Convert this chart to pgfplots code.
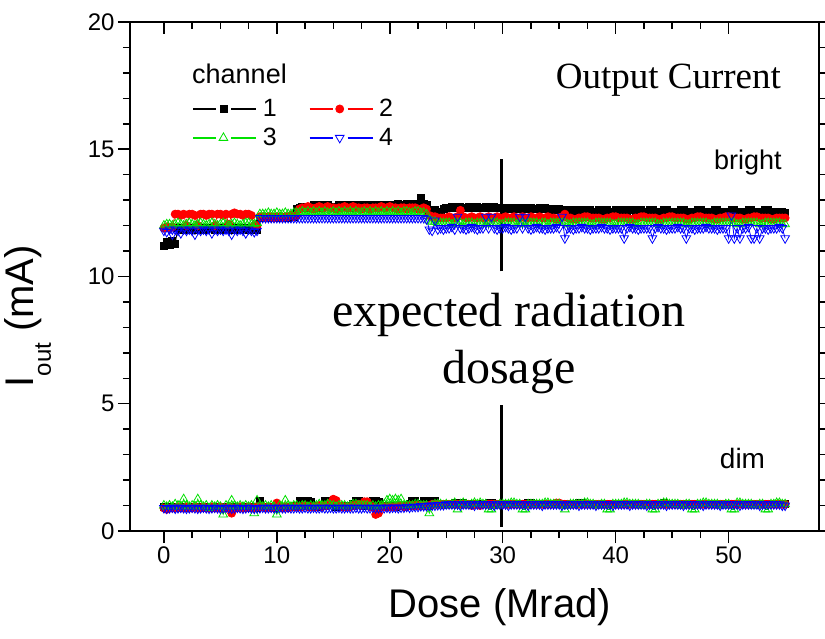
\documentclass[border=0pt]{standalone}
\usepackage{pgfplots}
\pgfplotsset{compat=1.18}
\usepackage{pgfplotstable}
\usepackage{fontspec}
\setmainfont{Liberation Sans}
\newfontfamily\timesfont{Liberation Serif}
\definecolor{cgreen}{RGB}{0,225,0}

\pgfplotstableread{
x b1 b2 b3 b4 d1 d2 d3 d4
0.00 11.20 11.90 12.00 11.80 0.95 0.90 1.00 0.90
0.25 11.35 11.95 12.05 11.75 0.95 0.85 0.95 0.88
0.50 11.25 11.90 12.05 11.85 0.90 0.90 1.00 0.90
0.75 11.40 11.95 12.00 11.65 0.95 0.90 0.95 0.92
1.00 11.30 12.45 12.05 11.85 0.95 0.90 1.05 0.88
1.25 11.90 12.45 12.10 11.80 0.90 0.95 1.00 0.90
1.50 11.85 12.40 12.05 11.70 0.95 0.90 0.95 0.92
1.75 11.90 12.45 12.00 11.85 0.95 0.90 1.25 0.90
2.00 11.90 12.00 12.05 11.80 0.95 0.95 1.00 0.88
2.25 11.85 12.45 12.10 11.85 0.90 0.90 0.95 0.90
2.50 11.90 12.45 12.05 11.80 0.95 0.90 1.00 0.92
2.75 11.90 12.40 12.00 11.65 0.95 0.95 0.95 0.90
3.00 11.85 12.00 12.05 11.85 0.95 0.90 1.25 0.88
3.25 11.90 12.45 12.10 11.80 0.90 0.90 1.00 0.90
3.50 11.90 12.45 12.05 11.85 0.95 0.95 0.95 0.92
3.75 11.85 12.40 12.00 11.80 0.95 0.90 1.00 0.90
4.00 11.90 12.45 12.05 11.85 0.95 0.90 0.90 0.88
4.25 11.90 12.45 12.10 11.70 0.90 0.95 1.00 0.90
4.50 11.85 12.00 12.05 11.85 0.95 0.90 0.95 0.92
4.75 11.90 12.45 12.00 11.80 0.95 0.90 1.00 0.90
5.00 11.90 12.45 12.05 11.85 0.95 0.95 0.95 0.88
5.25 11.85 12.40 12.10 11.80 0.90 0.90 0.65 0.90
5.50 11.90 12.45 12.05 11.85 0.95 0.90 1.00 0.92
5.75 11.90 12.05 12.00 11.80 0.95 0.95 0.95 0.90
6.00 11.85 12.45 12.05 11.65 0.95 0.70 1.20 0.88
6.25 11.90 12.50 12.10 11.85 0.90 0.90 1.00 0.90
6.50 11.90 12.45 12.05 11.80 0.95 0.90 0.95 0.92
6.75 11.85 12.45 12.00 11.85 0.95 0.95 1.00 0.90
7.00 11.90 12.40 12.05 11.80 0.95 0.90 0.95 0.88
7.25 11.90 12.45 12.10 11.70 0.90 0.90 1.00 0.90
7.50 11.85 12.45 12.10 11.85 0.95 0.95 0.95 0.92
7.75 11.90 12.40 12.05 11.80 0.95 0.90 1.00 0.90
8.00 11.90 12.00 12.05 11.75 0.95 0.90 0.70 0.88
8.25 11.85 12.00 12.10 11.80 0.90 0.95 1.20 0.90
8.50 12.30 12.35 12.45 12.30 1.20 0.95 1.00 0.90
8.75 12.35 12.35 12.45 12.30 0.95 0.95 0.95 0.92
9.00 12.35 12.30 12.45 12.30 0.95 0.90 1.00 0.90
9.25 12.30 12.35 12.50 12.30 0.95 0.95 0.95 0.90
9.50 12.35 12.35 12.45 12.30 0.95 0.90 1.00 0.92
9.75 12.35 12.30 12.45 12.30 0.90 0.95 0.95 0.90
10.00 12.35 12.35 12.50 12.30 0.95 1.10 0.65 0.90
10.25 12.30 12.35 12.45 12.30 0.95 0.95 1.00 0.92
10.50 12.35 12.30 12.45 12.30 0.95 0.90 0.95 0.90
10.75 12.35 12.35 12.50 12.30 0.95 0.95 1.20 0.90
11.00 12.30 12.35 12.45 12.30 0.95 0.90 1.00 0.92
11.25 12.35 12.40 12.45 12.30 0.95 0.95 0.95 0.90
11.50 12.35 12.35 12.50 12.30 1.00 0.95 1.00 0.90
11.75 12.65 12.40 12.50 12.30 1.00 0.95 1.00 0.92
12.00 12.70 12.65 12.50 12.30 1.20 0.95 0.95 0.90
12.25 12.75 12.70 12.55 12.30 1.15 0.95 1.00 0.90
12.50 12.70 12.70 12.50 12.30 1.20 1.00 1.00 0.92
12.75 12.75 12.75 12.55 12.30 1.20 0.95 0.95 0.90
13.00 12.70 12.70 12.50 12.30 1.15 0.95 1.00 0.90
13.25 12.80 12.65 12.55 12.30 0.95 0.95 0.95 0.92
13.50 12.75 12.70 12.50 12.30 0.95 0.95 1.00 0.90
13.75 12.70 12.75 12.55 12.30 1.00 1.00 1.05 0.90
14.00 12.80 12.70 12.50 12.30 1.00 0.95 1.00 0.92
14.25 12.75 12.70 12.55 12.30 1.20 1.00 1.00 0.90
14.50 12.80 12.75 12.50 12.30 1.20 1.00 1.05 0.90
14.75 12.75 12.70 12.50 12.30 1.15 1.10 1.00 0.92
15.00 12.70 12.70 12.55 12.30 1.15 1.25 1.00 0.90
15.25 12.75 12.65 12.50 12.30 0.95 1.20 0.95 0.90
15.50 12.80 12.70 12.55 12.30 0.95 1.00 1.00 0.92
15.75 12.75 12.70 12.50 12.30 0.95 0.95 1.00 0.90
16.00 12.80 12.75 12.55 12.30 1.00 0.95 1.00 0.90
16.25 12.75 12.70 12.50 12.30 1.00 0.95 0.95 0.92
16.50 12.70 12.70 12.55 12.30 1.00 0.95 1.00 0.90
16.75 12.80 12.75 12.50 12.30 1.05 1.00 1.05 0.90
17.00 12.75 12.70 12.55 12.30 1.20 1.00 1.05 0.92
17.25 12.80 12.70 12.50 12.30 1.20 1.05 1.00 0.90
17.50 12.75 12.65 12.50 12.30 1.15 1.00 1.00 0.90
17.75 12.80 12.70 12.55 12.30 1.00 1.15 1.00 0.92
18.00 12.75 12.70 12.50 12.30 1.00 1.15 1.00 0.90
18.25 12.80 12.65 12.55 12.30 1.10 0.95 0.95 0.90
18.50 12.80 12.70 12.50 12.30 1.20 0.95 1.00 0.92
18.75 12.75 12.70 12.55 12.30 1.20 0.65 0.95 0.90
19.00 12.80 12.70 12.50 12.30 1.15 0.70 1.00 0.90
19.25 12.75 12.75 12.55 12.30 1.00 0.95 1.00 0.92
19.50 12.80 12.70 12.50 12.30 1.00 0.95 1.05 0.90
19.75 12.75 12.70 12.55 12.30 1.00 0.95 1.20 0.92
20.00 12.80 12.75 12.50 12.30 1.00 0.95 1.25 0.90
20.25 12.75 12.70 12.55 12.30 0.95 0.95 1.20 0.92
20.50 12.80 12.70 12.50 12.30 0.95 0.95 1.25 0.92
20.75 12.85 12.65 12.55 12.30 1.00 1.00 1.20 0.90
21.00 12.75 12.70 12.50 12.30 1.00 1.00 1.25 0.92
21.25 12.80 12.70 12.55 12.30 1.00 0.95 1.00 0.92
21.50 12.85 12.65 12.55 12.30 1.00 0.95 1.00 0.95
21.75 12.80 12.70 12.50 12.30 1.05 1.00 1.00 0.92
22.00 12.85 12.70 12.50 12.30 1.20 1.00 1.00 0.95
22.25 12.80 12.70 12.55 12.30 1.20 1.00 1.05 0.95
22.50 12.85 12.65 12.55 12.30 1.05 1.00 1.05 0.95
22.75 13.10 12.65 12.50 12.30 1.05 1.00 1.00 0.98
23.00 12.85 12.70 12.50 12.30 1.20 1.00 1.00 0.98
23.25 12.80 12.65 12.45 12.25 1.20 1.00 1.00 0.98
23.50 12.55 12.40 12.20 11.85 1.00 1.00 0.70 1.00
23.75 12.60 12.35 12.15 11.80 1.05 1.05 1.00 1.00
24.00 12.60 12.35 12.15 12.20 1.20 1.05 1.05 1.00
24.25 12.55 12.30 12.10 11.85 1.05 1.05 1.05 1.02
24.50 12.55 12.30 12.10 11.90 1.05 1.05 1.05 1.02
24.75 12.65 12.30 12.10 11.85 1.05 1.05 1.00 1.02
25.00 12.70 12.30 12.10 11.90 1.05 1.05 1.05 1.05
25.25 12.70 12.35 12.10 11.90 1.05 1.05 1.00 1.05
25.50 12.75 12.30 12.05 11.95 1.05 1.05 1.05 1.05
25.75 12.70 12.30 12.10 11.85 1.10 1.05 1.10 1.05
26.00 12.70 12.35 12.10 12.35 1.05 1.05 0.85 1.05
26.25 12.75 12.60 12.10 11.90 1.05 1.05 1.05 1.00
26.50 12.70 12.35 12.05 11.90 1.10 1.05 1.10 1.05
26.75 12.70 12.30 12.10 11.85 1.05 1.05 1.05 1.05
27.00 12.75 12.30 12.10 11.90 1.05 1.05 1.00 1.05
27.25 12.70 12.35 12.10 11.95 1.05 1.00 1.05 1.05
27.50 12.70 12.30 12.05 11.90 1.05 1.05 1.10 1.00
27.75 12.75 12.30 12.10 11.85 1.05 1.05 1.05 1.05
28.00 12.70 12.35 12.10 11.90 1.05 1.00 1.10 1.05
28.25 12.70 12.30 12.10 11.90 1.05 1.05 1.05 1.05
28.50 12.75 12.30 12.05 12.35 1.05 1.05 1.05 1.05
28.75 12.70 12.35 12.10 11.90 1.10 1.05 0.85 1.05
29.00 12.70 12.30 12.10 12.35 1.10 1.05 0.85 1.05
29.25 12.75 12.30 12.10 11.90 1.05 1.05 1.00 1.00
29.50 12.70 12.35 12.10 11.85 1.05 1.05 1.00 1.05
29.75 12.70 12.30 12.05 11.90 1.05 1.05 1.05 1.05
30.00 12.70 12.30 12.05 11.90 1.05 1.05 1.05 1.05
30.25 12.65 12.35 12.10 11.95 1.05 1.05 1.05 1.05
30.50 12.70 12.30 12.10 11.90 1.05 1.05 1.05 1.00
30.75 12.65 12.30 12.10 11.85 1.05 1.05 1.10 1.05
31.00 12.70 12.35 12.10 11.90 1.05 1.05 1.10 1.05
31.25 12.65 12.30 12.05 11.90 1.05 1.05 1.05 1.05
31.50 12.70 12.30 12.10 12.35 1.05 1.05 1.05 1.05
31.75 12.65 12.35 12.10 11.90 1.05 1.05 0.85 1.05
32.00 12.70 12.30 12.05 12.35 1.05 1.05 0.85 1.05
32.25 12.65 12.30 12.10 11.90 1.10 1.05 1.05 1.00
32.50 12.70 12.35 12.10 11.85 1.10 1.05 1.05 1.05
32.75 12.65 12.30 12.10 11.90 1.05 1.05 1.05 1.05
33.00 12.65 12.30 12.10 11.95 1.05 1.05 1.05 1.05
33.25 12.70 12.35 12.05 11.90 1.05 1.05 1.05 1.05
33.50 12.65 12.30 12.10 11.90 1.05 1.05 1.05 1.00
33.75 12.70 12.30 12.10 11.85 1.05 1.05 1.10 1.05
34.00 12.65 12.35 12.05 11.90 1.05 1.05 1.10 1.05
34.25 12.60 12.30 12.10 11.90 1.05 1.05 1.05 1.05
34.50 12.60 12.30 12.10 11.90 1.05 1.05 1.05 1.05
34.75 12.65 12.25 12.10 11.95 1.05 1.10 1.05 1.05
35.00 12.65 12.30 12.10 11.90 1.05 1.10 1.05 1.05
35.25 12.60 12.35 12.10 12.35 1.05 1.05 1.00 1.00
35.50 12.55 12.45 12.10 11.50 1.05 1.05 0.85 1.05
35.75 12.60 12.30 12.05 11.90 1.05 1.05 1.00 1.05
36.00 12.60 12.30 12.05 11.90 1.05 1.05 1.05 1.05
36.25 12.55 12.25 12.10 11.85 1.05 1.05 1.05 1.05
36.50 12.55 12.25 12.10 11.90 1.05 1.05 1.05 1.05
36.75 12.60 12.30 12.10 11.90 1.10 1.05 1.05 1.00
37.00 12.60 12.30 12.10 11.95 1.10 1.05 1.05 1.05
37.25 12.55 12.35 12.10 11.90 1.05 1.05 1.10 1.05
37.50 12.55 12.35 12.10 11.90 1.05 1.05 1.10 1.05
37.75 12.60 12.30 12.05 11.85 1.05 1.05 1.05 1.05
38.00 12.55 12.30 12.05 11.90 1.05 1.05 1.05 1.05
38.25 12.55 12.30 12.10 11.90 1.05 1.05 1.00 1.00
38.50 12.60 12.30 12.10 11.90 1.05 1.05 1.00 1.05
38.75 12.55 12.25 12.10 11.95 1.05 1.05 1.05 1.05
39.00 12.55 12.25 12.10 11.90 1.05 1.05 1.05 1.05
39.25 12.60 12.30 12.10 11.90 1.05 1.05 0.85 1.05
39.50 12.55 12.30 12.10 11.85 1.05 1.05 0.85 1.05
39.75 12.55 12.35 12.05 11.90 1.05 1.05 1.05 1.00
40.00 12.60 12.35 12.05 11.90 1.05 1.05 1.05 1.05
40.25 12.55 12.30 12.10 11.90 1.05 1.05 1.05 1.05
40.50 12.55 12.30 12.10 11.90 1.05 1.05 1.05 1.05
40.75 12.60 12.30 12.10 11.50 1.05 1.05 1.10 1.05
41.00 12.55 12.30 12.10 11.90 1.05 1.05 1.10 1.05
41.25 12.60 12.25 12.10 11.95 1.05 1.05 1.05 1.00
41.50 12.60 12.25 12.10 11.90 1.05 1.05 1.05 1.05
41.75 12.55 12.30 12.05 11.90 1.05 1.05 1.05 1.05
42.00 12.55 12.30 12.05 11.85 1.05 1.05 1.05 1.05
42.25 12.60 12.35 12.10 11.90 1.05 1.05 1.00 1.05
42.50 12.55 12.35 12.10 11.90 1.05 1.05 1.00 1.05
42.75 12.55 12.30 12.10 11.90 1.05 1.05 1.05 1.00
43.00 12.60 12.30 12.10 11.90 1.05 1.05 1.05 1.05
43.25 12.60 12.30 12.10 11.50 1.05 1.05 0.85 1.05
43.50 12.55 12.30 12.10 11.90 1.05 1.05 0.85 1.05
43.75 12.55 12.25 12.05 11.95 1.05 1.05 1.05 1.05
44.00 12.55 12.25 12.05 11.90 1.05 1.05 1.05 1.05
44.25 12.60 12.30 12.10 11.90 1.10 1.05 1.10 1.05
44.50 12.60 12.30 12.10 11.85 1.05 1.05 1.10 1.00
44.75 12.55 12.35 12.10 11.90 1.05 1.05 1.05 1.05
45.00 12.55 12.35 12.10 11.90 1.05 1.05 1.05 1.05
45.25 12.55 12.30 12.10 11.90 1.05 1.05 1.05 1.05
45.50 12.55 12.30 12.10 11.95 1.05 1.05 1.05 1.05
45.75 12.60 12.30 12.10 11.90 1.05 1.05 1.00 1.05
46.00 12.60 12.30 12.10 11.90 1.05 1.05 1.00 1.00
46.25 12.55 12.25 12.05 11.50 1.05 1.05 1.05 1.05
46.50 12.55 12.25 12.05 11.90 1.05 1.05 1.05 1.05
46.75 12.55 12.30 12.10 11.90 1.05 1.05 0.85 1.05
47.00 12.55 12.30 12.10 11.85 1.05 1.05 0.85 1.05
47.25 12.60 12.35 12.10 11.90 1.05 1.05 1.05 1.05
47.50 12.60 12.35 12.10 11.90 1.05 1.05 1.05 1.05
47.75 12.55 12.30 12.10 11.90 1.05 1.05 1.10 1.00
48.00 12.55 12.30 12.10 11.95 1.05 1.05 1.10 1.05
48.25 12.55 12.30 12.05 11.90 1.05 1.05 1.05 1.05
48.50 12.55 12.30 12.05 11.90 1.05 1.05 1.05 1.05
48.75 12.60 12.25 12.10 11.90 1.05 1.05 1.05 1.05
49.00 12.60 12.25 12.10 11.85 1.05 1.05 1.05 1.05
49.25 12.55 12.30 12.10 11.90 1.05 1.05 1.00 1.00
49.50 12.55 12.30 12.10 11.90 1.05 1.05 1.00 1.05
49.75 12.55 12.35 12.10 11.90 1.05 1.05 1.05 1.05
50.00 12.55 12.35 12.10 11.50 1.05 1.05 1.05 1.05
50.25 12.60 12.30 12.10 12.40 1.05 1.05 0.85 1.05
50.50 12.60 12.30 12.10 11.50 1.05 1.05 0.85 1.05
50.75 12.55 12.30 12.05 11.90 1.05 1.05 1.10 1.05
51.00 12.55 12.30 12.05 11.50 1.05 1.05 1.10 1.00
51.25 12.55 12.25 12.10 11.90 1.05 1.05 1.05 1.05
51.50 12.55 12.25 12.10 11.90 1.05 1.05 1.05 1.05
51.75 12.60 12.30 12.10 11.95 1.05 1.05 1.05 1.05
52.00 12.60 12.30 12.10 11.50 1.05 1.05 1.05 1.05
52.25 12.55 12.35 12.10 11.50 1.05 1.05 1.00 1.05
52.50 12.55 12.35 12.10 11.90 1.05 1.05 1.00 1.05
52.75 12.55 12.30 12.05 11.50 1.05 1.05 1.05 1.00
53.00 12.55 12.30 12.05 11.90 1.05 1.05 1.05 1.05
53.25 12.60 12.30 12.10 11.90 1.05 1.05 0.85 1.05
53.50 12.60 12.30 12.10 11.85 1.05 1.05 0.85 1.05
53.75 12.55 12.25 12.10 11.90 1.05 1.05 1.05 1.05
54.00 12.55 12.25 12.10 11.90 1.05 1.05 1.05 1.05
54.25 12.55 12.30 12.10 11.90 1.05 1.05 1.10 1.05
54.50 12.55 12.30 12.10 11.95 1.05 1.05 1.10 1.05
54.75 12.55 12.30 12.05 11.90 1.05 1.05 1.05 1.00
55.00 12.50 12.30 12.05 11.50 1.05 1.05 1.05 1.00
}\datatable

\pgfplotsset{
  frame/.style={
    scale only axis, width=689bp, height=509bp,
    xmin=-3, xmax=58, ymin=0, ymax=20,
    xtick={0,10,...,50}, ytick={0,5,...,20},
    minor x tick num=3, minor y tick num=4,
    major tick length=12bp, minor tick length=7bp,
    every tick/.style={black, line width=1.5bp},
    axis line style={line width=1.8bp},
  },
  ch1/.style={black, line width=0.8bp, mark=square*, mark size=3.5bp, mark options={solid}},
  ch2/.style={red, line width=0.8bp, mark=*, mark size=4bp, mark options={solid}},
  ch3/.style={cgreen, line width=0.8bp, mark=triangle, mark size=5bp, mark options={solid, fill=white}},
  ch4/.style={blue, line width=0.8bp, mark=triangle, mark size=5bp, mark options={solid, fill=white, rotate=180}},
}

\begin{document}
\begin{tikzpicture}
% top ticks (inside)
\begin{axis}[frame, xtick pos=right, ytick=\empty, tick align=inside, xticklabels={}]
\end{axis}
% right ticks (outside)
\begin{axis}[frame, ytick pos=right, xtick=\empty, tick align=outside, yticklabels={}]
\end{axis}
\begin{axis}[frame,
  clip=false,
  xtick pos=left, ytick pos=left, tick align=outside,
  tick label style={font=\fontsize{24bp}{28bp}\selectfont},
  /pgf/number format/assume math mode=true,
  xlabel={Dose (Mrad)},
  xlabel style={at={(axis description cs:0.537,-0.149)}, anchor=center, font=\fontsize{40bp}{44bp}\selectfont},
  ylabel={I{\fontsize{24bp}{24bp}\selectfont\raisebox{-17bp}{out}} (mA)},
  ylabel style={at={(axis description cs:-0.148,0.422)}, anchor=center, font=\fontsize{40bp}{44bp}\selectfont},
  legend columns=2,
  legend style={draw=none, fill=none, at={(axis description cs:0.086,0.856)}, anchor=north west,
    font=\fontsize{25bp}{30bp}\selectfont, row sep=6bp,
    /tikz/every even column/.append style={column sep=30bp}},
  legend image code/.code={
    \draw[#1, mark=none, line width=2bp] (0bp,0bp) -- (23bp,0bp);
    \draw[#1, mark=none, line width=2bp] (38bp,0bp) -- (63bp,0bp);
    \draw[#1, only marks] plot coordinates {(30bp,0bp)};
    \path (67bp,0bp);
  },
]
\addplot[ch1] table[x=x, y=b1] {\datatable};
\addlegendentry{1}
\addplot[ch2] table[x=x, y=b2] {\datatable};
\addlegendentry{2}
\addplot[ch3] table[x=x, y=b3] {\datatable};
\addlegendentry{3}
\addplot[ch4] table[x=x, y=b4] {\datatable};
\addlegendentry{4}
\addplot[ch1, forget plot] table[x=x, y=d1] {\datatable};
\addplot[ch2, forget plot] table[x=x, y=d2] {\datatable};
\addplot[ch3, forget plot] table[x=x, y=d3] {\datatable};
\addplot[ch4, forget plot] table[x=x, y=d4] {\datatable};
% expected radiation dosage marker line
\addplot[black, line width=3bp, forget plot] coordinates {(29.9,10.2) (29.9,14.6)};
\addplot[black, line width=3bp, forget plot] coordinates {(29.9,0.15) (29.9,4.95)};

\node[anchor=west, inner sep=0pt, font=\fontsize{27bp}{30bp}\selectfont] at (axis description cs:0.09,0.898) {channel};
\node[anchor=east, inner sep=0pt, font=\timesfont\fontsize{37bp}{40bp}\selectfont] at (axis description cs:0.945,0.886) {Output Current};
\node[anchor=east, inner sep=0pt, font=\fontsize{27bp}{30bp}\selectfont] at (axis description cs:0.946,0.723) {bright};
\node[anchor=east, inner sep=0pt, font=\fontsize{28bp}{30bp}\selectfont] at (axis description cs:0.922,0.143) {dim};
\node[align=center, inner sep=0pt, font=\timesfont\fontsize{48bp}{57bp}\selectfont] at (axis description cs:0.550,0.369) {expected radiation\\dosage};
\end{axis}
\pgfresetboundingbox
\path (-130bp,-108bp) rectangle (695bp,531bp);
\end{tikzpicture}
\end{document}
